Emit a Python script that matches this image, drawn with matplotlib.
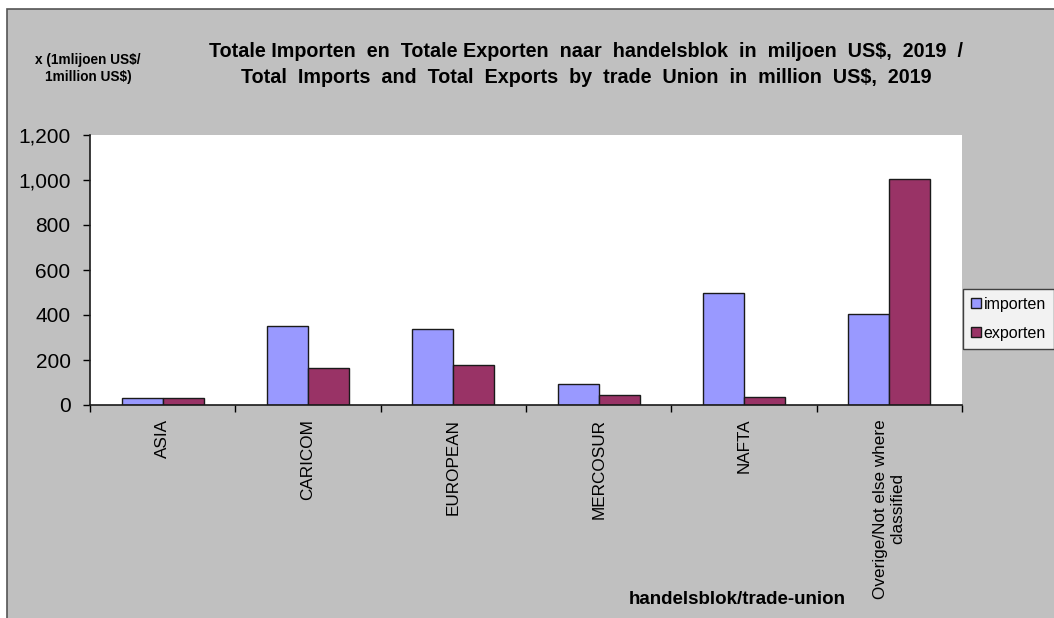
import matplotlib.pyplot as plt
import numpy as np
from matplotlib.patches import Rectangle, Patch

plt.rcParams['font.family'] = ['Liberation Sans', 'DejaVu Sans']

categories = ['ASIA', 'CARICOM', 'EUROPEAN', 'MERCOSUR', 'NAFTA',
              'Overige/Not else where\nclassified']
importen = [33, 351, 338, 92, 497, 404]
exporten = [33, 164, 177, 43, 37, 1005]

W, H = 1054, 618
fig = plt.figure(figsize=(W / 100, H / 100), dpi=100, facecolor='white')

# grey chart area with its frame (cut off on the right and bottom)
bg = Rectangle((7 / W, -0.1), 1.2, 1 - 9 / H + 0.1,
               transform=fig.transFigure, facecolor='#C0C0C0',
               edgecolor='#555555', linewidth=1.2, zorder=-10)
fig.patches.append(bg)

ax = fig.add_axes([90 / W, 1 - 405 / H, (962 - 90) / W, (405 - 135) / H])
ax.set_facecolor('white')

x = np.arange(len(categories))
bw = 0.283
ax.bar(x - bw / 2, importen, bw, color='#9999FF', edgecolor='#1a1a1a', linewidth=1)
ax.bar(x + bw / 2, exporten, bw, color='#993366', edgecolor='#1a1a1a', linewidth=1)

ax.set_xlim(-0.5, len(categories) - 0.5)
ax.set_ylim(0, 1200)
ax.set_yticks(range(0, 1201, 200))
ax.set_yticklabels([f'{v:,}' for v in range(0, 1201, 200)], fontsize=15)
ax.set_xticks(x)
ax.set_xticklabels(categories, rotation=90, fontsize=12.3, ha='center', va='top',
                   multialignment='center')
ax.set_xticks(np.arange(-0.5, len(categories)), minor=True)
ax.tick_params(axis='x', which='major', length=0, pad=10)
ax.tick_params(axis='x', which='minor', length=5, width=1, direction='out')
ax.tick_params(axis='y', length=5, width=1, direction='out', pad=9)
for s in ['top', 'right']:
    ax.spines[s].set_visible(False)
for s in ['left', 'bottom']:
    ax.spines[s].set_color('#1a1a1a')
    ax.spines[s].set_linewidth(1.2)

fig.text(586 / W, 1 - 64.5 / H,
         'Totale Importen  en  Totale Exporten  naar  handelsblok  in  miljoen  US$,  2019  /\n'
         'Total  Imports  and  Total  Exports  by  trade  Union  in  million  US$,  2019',
         ha='center', va='center', fontsize=14.2, fontweight='bold', linespacing=1.45)
fig.text(88 / W, 1 - 68.5 / H, 'x (1mlijoen US$/\n1million US$)',
         ha='center', va='center', fontsize=9.8, fontweight='bold', linespacing=1.35)
fig.text(737 / W, 1 - 599 / H, 'handelsblok/trade-union',
         ha='center', va='center', fontsize=13.5, fontweight='bold')

handles = [Patch(facecolor='#9999FF', edgecolor='#1a1a1a', label='importen'),
           Patch(facecolor='#993366', edgecolor='#1a1a1a', label='exporten')]
leg = fig.legend(handles=handles, loc='upper left',
                 bbox_to_anchor=(963 / W, 1 - 289 / H), borderaxespad=0,
                 fontsize=11.5, frameon=True, fancybox=False,
                 handlelength=0.6, handleheight=0.6, handletextpad=0.2,
                 labelspacing=0.85, borderpad=0.5)
leg.get_frame().set_edgecolor('#1a1a1a')
leg.get_frame().set_facecolor('white')
leg.get_frame().set_linewidth(1)

fig.savefig('out.png', dpi=100, facecolor='white')
